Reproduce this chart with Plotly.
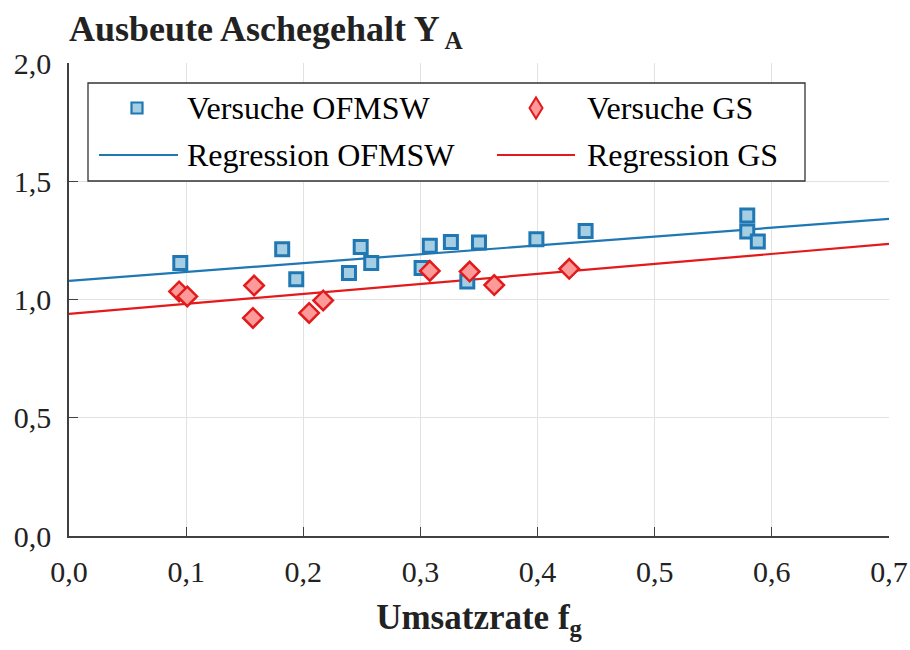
import plotly.graph_objects as go

# Measured points: yield of ash content vs. conversion rate
fg_ofmsw = [0.095, 0.182, 0.194, 0.239, 0.249, 0.258, 0.301, 0.308, 0.326, 0.340,
            0.350, 0.399, 0.441, 0.579, 0.579, 0.588]
ya_ofmsw = [1.154, 1.213, 1.086, 1.112, 1.222, 1.154, 1.133, 1.227, 1.243, 1.076,
            1.241, 1.255, 1.290, 1.355, 1.287, 1.245]

fg_gs = [0.094, 0.101, 0.158, 0.157, 0.205, 0.217, 0.308, 0.342, 0.363, 0.427]
ya_gs = [1.034, 1.013, 1.059, 0.922, 0.943, 0.996, 1.121, 1.118, 1.061, 1.130]

# Regression lines (end points over the axis range)
reg_fg = [0.0, 0.7]
reg_ofmsw = [1.079, 1.341]
reg_gs = [0.939, 1.235]

x_ticks = [0.0, 0.1, 0.2, 0.3, 0.4, 0.5, 0.6, 0.7]
y_ticks = [0.0, 0.5, 1.0, 1.5, 2.0]

legend_labels = ["Versuche OFMSW", "Versuche GS", "Regression OFMSW", "Regression GS"]

BLUE = "#1f77b4"
BLUE_FILL = "#a6cee3"
RED = "#e31a1c"
RED_FILL = "#fb9a99"
AXIS = "#404040"
GRID = "#e2e2e2"
FONT = "Liberation Serif"

W, H = 910, 650
ML, MR, MT, MB = 69, 21, 63, 114
PW, PH = W - ML - MR, H - MT - MB


def px_x(p):
    return (p - ML) / PW


def px_y(p):
    return (MT + PH - p) / PH


fig = go.Figure()

fig.add_trace(go.Scatter(x=reg_fg, y=reg_ofmsw, mode="lines",
                         line=dict(color=BLUE, width=2.2), name=legend_labels[2],
                         showlegend=False))
fig.add_trace(go.Scatter(x=reg_fg, y=reg_gs, mode="lines",
                         line=dict(color=RED, width=2.2), name=legend_labels[3],
                         showlegend=False))
fig.add_trace(go.Scatter(x=fg_ofmsw, y=ya_ofmsw, mode="markers", name=legend_labels[0],
                         marker=dict(symbol="square", size=13, color=BLUE_FILL,
                                     line=dict(color=BLUE, width=3)),
                         showlegend=False, cliponaxis=False))
fig.add_trace(go.Scatter(x=fg_gs, y=ya_gs, mode="markers", name=legend_labels[1],
                         marker=dict(symbol="diamond", size=15, color=RED_FILL,
                                     line=dict(color=RED, width=2.5)),
                         showlegend=False, cliponaxis=False))

# Legend drawn as a framed box with two columns
shapes = [
    dict(type="rect", xref="paper", yref="paper",
         x0=px_x(88), x1=px_x(805), y0=px_y(181), y1=px_y(83),
         line=dict(color="#333333", width=1.3), fillcolor="white", layer="above"),
    dict(type="line", xref="paper", yref="paper",
         x0=px_x(99), x1=px_x(178), y0=px_y(155), y1=px_y(155),
         line=dict(color=BLUE, width=2.2), layer="above"),
    dict(type="line", xref="paper", yref="paper",
         x0=px_x(497), x1=px_x(575), y0=px_y(155), y1=px_y(155),
         line=dict(color=RED, width=2.2), layer="above"),
    dict(type="rect", xref="paper", yref="paper",
         x0=px_x(131.5), x1=px_x(142.5), y0=px_y(113.5), y1=px_y(102.5),
         line=dict(color=BLUE, width=2.2), fillcolor=BLUE_FILL, layer="above"),
]
dx, dy = 6.5 / PW, 10.5 / PH
cx, cy = px_x(536), px_y(108)
shapes.append(dict(type="path", xref="paper", yref="paper",
                   path=f"M {cx - dx} {cy} L {cx} {cy + dy} L {cx + dx} {cy} L {cx} {cy - dy} Z",
                   line=dict(color=RED, width=2), fillcolor=RED_FILL, layer="above"))

legend_pos = [(185, 108), (585, 108), (185, 155), (585, 155)]
annotations = []
for text, (lx, ly) in zip(legend_labels, legend_pos):
    annotations.append(dict(text=text, xref="paper", yref="paper", x=px_x(lx), y=px_y(ly),
                            xanchor="left", yanchor="middle", showarrow=False,
                            font=dict(family=FONT, size=32, color="black")))

annotations.append(dict(text="<b>Ausbeute Aschegehalt Y<sub> A</sub></b>",
                        xref="paper", yref="paper", x=0, y=1, xanchor="left",
                        yanchor="bottom", yshift=7, xshift=-2, showarrow=False,
                        font=dict(family=FONT, size=36, color="#222222")))

fig.update_layout(
    width=W, height=H,
    margin=dict(l=ML, r=MR, t=MT, b=MB, autoexpand=False),
    plot_bgcolor="white", paper_bgcolor="white",
    separators=",.",
    shapes=shapes, annotations=annotations,
    font=dict(family=FONT, color="#222222"),
    xaxis=dict(range=[0, 0.7], tickvals=x_ticks, tickformat=".1f",
               ticks="inside", ticklen=9, tickwidth=1.3, tickcolor=AXIS,
               showline=True, linecolor=AXIS, linewidth=1.5, automargin=False,
               showgrid=True, gridcolor=GRID, gridwidth=1.2, zeroline=False,
               tickfont=dict(family=FONT, size=30, color="#222222"),
               ticklabelstandoff=8,
               title=dict(text="<b>Umsatzrate f<sub>g</sub></b>", standoff=18,
                          font=dict(family=FONT, size=35, color="#222222"))),
    yaxis=dict(range=[0, 2.0], tickvals=y_ticks, tickformat=".1f",
               ticks="inside", ticklen=9, tickwidth=1.3, tickcolor=AXIS,
               showline=True, linecolor=AXIS, linewidth=1.5, automargin=False,
               showgrid=True, gridcolor=GRID, gridwidth=1.2, zeroline=False,
               tickfont=dict(family=FONT, size=30, color="#222222"),
               ticklabelstandoff=10),
)

fig.write_html("out.html")
